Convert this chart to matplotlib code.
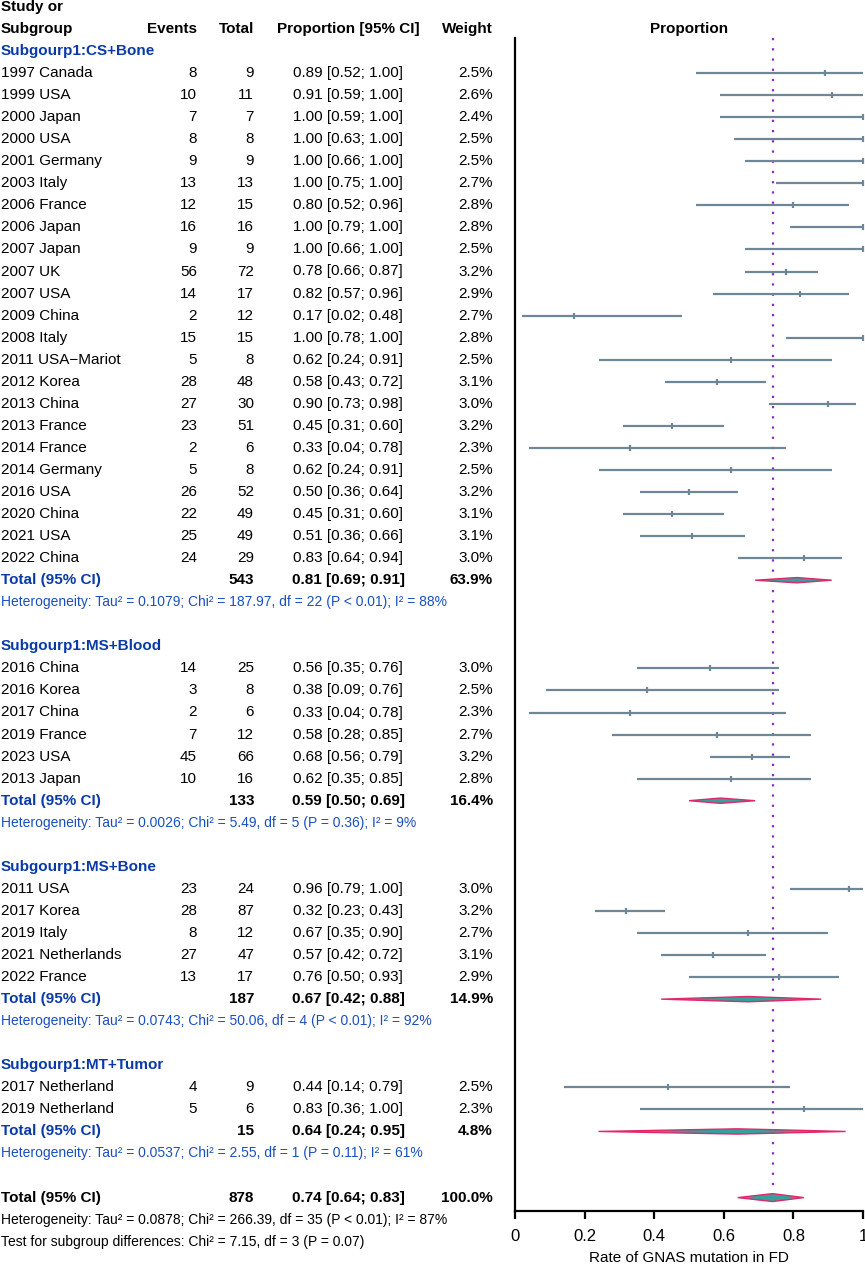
import matplotlib
matplotlib.use("Agg")
import matplotlib.pyplot as plt
import matplotlib.transforms as mtransforms
from matplotlib.patches import Polygon

plt.rcParams['font.family'] = ['Liberation Sans', 'DejaVu Sans']

# ---------------- data ----------------
study = ["1997 Canada", "1999 USA", "2000 Japan", "2000 USA", "2001 Germany", "2003 Italy",
         "2006 France", "2006 Japan", "2007 Japan", "2007 UK", "2007 USA", "2009 China",
         "2008 Italy", "2011 USA\u2212Mariot", "2012 Korea", "2013 China", "2013 France",
         "2014 France", "2014 Germany", "2016 USA", "2020 China", "2021 USA", "2022 China",
         "2016 China", "2016 Korea", "2017 China", "2019 France", "2023 USA", "2013 Japan",
         "2011 USA", "2017 Korea", "2019 Italy", "2021 Netherlands", "2022 France",
         "2017 Netherland", "2019 Netherland"]
group = [0] * 23 + [1] * 6 + [2] * 5 + [3] * 2
events = [8, 10, 7, 8, 9, 13, 12, 16, 9, 56, 14, 2, 15, 5, 28, 27, 23, 2, 5, 26, 22, 25, 24,
          14, 3, 2, 7, 45, 10,
          23, 28, 8, 27, 13,
          4, 5]
totals = [9, 11, 7, 8, 9, 13, 15, 16, 9, 72, 17, 12, 15, 8, 48, 30, 51, 6, 8, 52, 49, 49, 29,
          25, 8, 6, 12, 66, 16,
          24, 87, 12, 47, 17,
          9, 6]
prop = [0.89, 0.91, 1.00, 1.00, 1.00, 1.00, 0.80, 1.00, 1.00, 0.78, 0.82, 0.17, 1.00, 0.62,
        0.58, 0.90, 0.45, 0.33, 0.62, 0.50, 0.45, 0.51, 0.83,
        0.56, 0.38, 0.33, 0.58, 0.68, 0.62,
        0.96, 0.32, 0.67, 0.57, 0.76,
        0.44, 0.83]
ci_low = [0.52, 0.59, 0.59, 0.63, 0.66, 0.75, 0.52, 0.79, 0.66, 0.66, 0.57, 0.02, 0.78, 0.24,
          0.43, 0.73, 0.31, 0.04, 0.24, 0.36, 0.31, 0.36, 0.64,
          0.35, 0.09, 0.04, 0.28, 0.56, 0.35,
          0.79, 0.23, 0.35, 0.42, 0.50,
          0.14, 0.36]
ci_high = [1.00, 1.00, 1.00, 1.00, 1.00, 1.00, 0.96, 1.00, 1.00, 0.87, 0.96, 0.48, 1.00, 0.91,
           0.72, 0.98, 0.60, 0.78, 0.91, 0.64, 0.60, 0.66, 0.94,
           0.76, 0.76, 0.78, 0.85, 0.79, 0.85,
           1.00, 0.43, 0.90, 0.72, 0.93,
           0.79, 1.00]
weight = [2.5, 2.6, 2.4, 2.5, 2.5, 2.7, 2.8, 2.8, 2.5, 3.2, 2.9, 2.7, 2.8, 2.5, 3.1, 3.0, 3.2,
          2.3, 2.5, 3.2, 3.1, 3.1, 3.0,
          3.0, 2.5, 2.3, 2.7, 3.2, 2.8,
          3.0, 3.2, 2.7, 3.1, 2.9,
          2.5, 2.3]

sub_names = ["Subgourp1:CS+Bone", "Subgourp1:MS+Blood", "Subgourp1:MS+Bone", "Subgourp1:MT+Tumor"]
sub_total = [543, 133, 187, 15]
sub_prop = [0.81, 0.59, 0.67, 0.64]
sub_low = [0.69, 0.50, 0.42, 0.24]
sub_high = [0.91, 0.69, 0.88, 0.95]
sub_weight = [63.9, 16.4, 14.9, 4.8]
sub_het = ["Heterogeneity: Tau\u00b2 = 0.1079; Chi\u00b2 = 187.97, df = 22 (P < 0.01); I\u00b2 = 88%",
           "Heterogeneity: Tau\u00b2 = 0.0026; Chi\u00b2 = 5.49, df = 5 (P = 0.36); I\u00b2 = 9%",
           "Heterogeneity: Tau\u00b2 = 0.0743; Chi\u00b2 = 50.06, df = 4 (P < 0.01); I\u00b2 = 92%",
           "Heterogeneity: Tau\u00b2 = 0.0537; Chi\u00b2 = 2.55, df = 1 (P = 0.11); I\u00b2 = 61%"]

overall_total = 878
overall_prop = 0.74
overall_low = 0.64
overall_high = 0.83
overall_weight = 100.0
overall_het = "Heterogeneity: Tau\u00b2 = 0.0878; Chi\u00b2 = 266.39, df = 35 (P < 0.01); I\u00b2 = 87%"
subgroup_test = "Test for subgroup differences: Chi\u00b2 = 7.15, df = 3 (P = 0.07)"

x_ticks = [0, 0.2, 0.4, 0.6, 0.8, 1]
x_ticklabels = ["0", "0.2", "0.4", "0.6", "0.8", "1"]

# ---------------- figure ----------------
W, H = 865, 1269
fig = plt.figure(figsize=(W / 100, H / 100), dpi=100)

pitch = 22.05
row0_px = 51.0
ax_top_px, ax_bot_px = 38.0, 1211.0
ax_left_px, ax_right_px = 515.0, 863.0
ax = fig.add_axes([ax_left_px / W, 1 - ax_bot_px / H,
                   (ax_right_px - ax_left_px) / W, (ax_bot_px - ax_top_px) / H])
ymin_row = (ax_top_px - row0_px) / pitch
ymax_row = (ax_bot_px - row0_px) / pitch
ax.set_ylim(ymax_row, ymin_row)
ax.set_xlim(0, 1)

tr = mtransforms.blended_transform_factory(fig.transFigure, ax.transData)

def fx(px):
    return px / W

FS = 11
HFS = 10
BLUE = "#0a3aa8"
HETBLUE = "#1a4fc0"
LINEC = "#6e8796"
DIAFILL = "#35a09c"
DIAEDGE = "#e0286a"
REFC = "#8a2bc6"

def txt(xpx, row, s, ha="left", weight="normal", color="black", size=FS):
    ax.text(fx(xpx), row, s, transform=tr, ha=ha, va="center", fontsize=size,
            fontweight=weight, color=color, clip_on=False)

COL_STUDY = 1
COL_EVENTS = 197
COL_TOTAL = 254
COL_PROP = 348
COL_WEIGHT = 493

# headers
txt(COL_STUDY, -2, "Study or", weight="bold")
txt(COL_STUDY, -1, "Subgroup", weight="bold")
txt(COL_EVENTS, -1, "Events", ha="right", weight="bold")
txt(COL_TOTAL, -1, "Total", ha="right", weight="bold")
txt(COL_PROP, -1, "Proportion [95% CI]", ha="center", weight="bold")
txt(COL_WEIGHT, -1, "Weight", ha="right", weight="bold")
ax.text(0.5, -1, "Proportion", ha="center", va="center", fontsize=FS, fontweight="bold",
        clip_on=False)

row = 0
for g in range(len(sub_names)):
    txt(COL_STUDY, row, sub_names[g], weight="bold", color=BLUE)
    row += 1
    for i in range(len(study)):
        if group[i] != g:
            continue
        txt(COL_STUDY, row, study[i])
        txt(COL_EVENTS, row, f"{events[i]}", ha="right")
        txt(COL_TOTAL, row, f"{totals[i]}", ha="right")
        txt(COL_PROP, row, f"{prop[i]:.2f} [{ci_low[i]:.2f}; {ci_high[i]:.2f}]", ha="center")
        txt(COL_WEIGHT, row, f"{weight[i]:.1f}%", ha="right")
        ax.plot([ci_low[i], ci_high[i]], [row, row], color=LINEC, lw=1.6,
                solid_capstyle="butt", clip_on=False, zorder=2)
        ax.plot([prop[i]], [row], marker="|", markersize=5, mew=1.6, color=LINEC,
                clip_on=False, zorder=3)
        row += 1
    txt(COL_STUDY, row, "Total (95% CI)", weight="bold", color=BLUE)
    txt(COL_TOTAL, row, f"{sub_total[g]}", ha="right", weight="bold")
    txt(COL_PROP, row, f"{sub_prop[g]:.2f} [{sub_low[g]:.2f}; {sub_high[g]:.2f}]",
        ha="center", weight="bold")
    txt(COL_WEIGHT, row, f"{sub_weight[g]:.1f}%", ha="right", weight="bold")
    hh = 0.12
    ax.add_patch(Polygon([[sub_low[g], row], [sub_prop[g], row - hh],
                          [sub_high[g], row], [sub_prop[g], row + hh]],
                         closed=True, facecolor=DIAFILL, edgecolor=DIAEDGE, lw=1.0,
                         zorder=4, clip_on=False))
    row += 1
    txt(COL_STUDY, row, sub_het[g], color=HETBLUE, size=HFS)
    row += 2

# overall
txt(COL_STUDY, row, "Total (95% CI)", weight="bold")
txt(COL_TOTAL, row, f"{overall_total}", ha="right", weight="bold")
txt(COL_PROP, row, f"{overall_prop:.2f} [{overall_low:.2f}; {overall_high:.2f}]",
    ha="center", weight="bold")
txt(COL_WEIGHT, row, f"{overall_weight:.1f}%", ha="right", weight="bold")
hh = 0.18
ax.add_patch(Polygon([[overall_low, row], [overall_prop, row - hh],
                      [overall_high, row], [overall_prop, row + hh]],
                     closed=True, facecolor=DIAFILL, edgecolor=DIAEDGE, lw=1.0,
                     zorder=4, clip_on=False))
overall_row = row
txt(COL_STUDY, row + 1, overall_het, size=HFS)
txt(COL_STUDY, row + 2, subgroup_test, size=HFS)

# reference line
ax.plot([overall_prop, overall_prop], [ymin_row, overall_row - 0.2], color=REFC, lw=1.6,
        linestyle=(0, (1, 3.6)), zorder=1, clip_on=False)

# axes styling
for s in ["top", "right"]:
    ax.spines[s].set_visible(False)
ax.spines["left"].set_linewidth(1.6)
ax.spines["bottom"].set_linewidth(1.6)
ax.set_yticks([])
ax.set_xticks(x_ticks)
ax.set_xticklabels(x_ticklabels, fontsize=12)
ax.tick_params(axis="x", length=6, width=1.6, pad=7)
ax.set_xlabel("Rate of GNAS mutation in FD", fontsize=11, labelpad=5)
ax.patch.set_visible(False)

fig.savefig("out.png", dpi=100)
